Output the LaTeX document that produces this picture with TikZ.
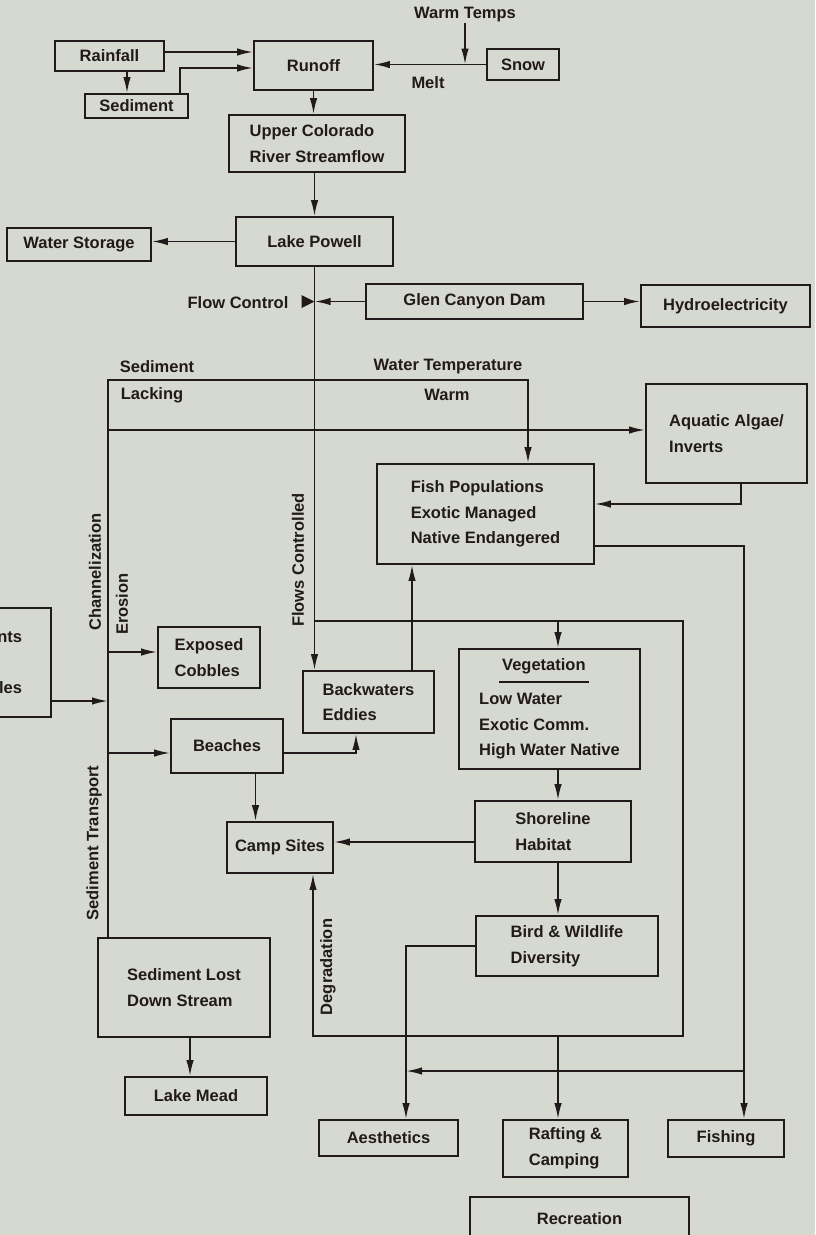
\documentclass[tikz,border=0pt]{standalone}
\usepackage{fontspec}
\setmainfont{Liberation Sans}
\usetikzlibrary{arrows.meta,calc}
\definecolor{bg}{RGB}{213,217,207}
\definecolor{ink}{RGB}{34,26,26}
\begin{document}
\begin{tikzpicture}[x=1pt,y=-1pt,
  every node/.style={text=ink},
  font=\fontsize{16.5}{25.5}\selectfont\bfseries,
  box/.style={draw=ink,line width=1.8pt,inner sep=0pt,align=left},
  lbl/.style={inner sep=0pt},
  conn/.style={draw=ink,line width=1.8pt},
  arr/.style={conn,-{Latex[length=16pt,width=7.5pt]}},
]
\useasboundingbox (0,0) rectangle (815,1235);
\fill[bg] (0,0) rectangle (815,1235);

% boxes
\node[box,minimum width=109pt,minimum height=30pt] (rain) at (109.5,56) {Rainfall};
\node[box,minimum width=103pt,minimum height=24pt] (sedtop) at (136.5,106) {Sediment};
\node[box,minimum width=119pt,minimum height=49pt] (runoff) at (313.5,65.5) {Runoff};
\node[box,minimum width=72pt,minimum height=31pt] (snow) at (523,64.5) {Snow};
\node[box,minimum width=176pt,minimum height=57pt] (upper) at (317,143.5) {Upper Colorado\\River Streamflow};
\node[box,minimum width=157pt,minimum height=49pt] (powell) at (314.5,241.5) {Lake Powell};
\node[box,minimum width=144pt,minimum height=33pt] (storage) at (79,244.5) {Water Storage};
\node[box,minimum width=217pt,minimum height=35pt] (glen) at (474.5,301.5) {Glen Canyon Dam};
\node[box,minimum width=169pt,minimum height=42pt] (hydro) at (725.5,306) {Hydroelectricity};
\node[box,minimum width=161pt,minimum height=99pt] (aquatic) at (726.5,433.5) {Aquatic Algae/\\Inverts};
\node[box,minimum width=217pt,minimum height=100pt] (fish) at (485.5,514) {Fish Populations\\Exotic Managed\\Native Endangered};
\node[box,anchor=east,align=right,inner xsep=29pt,minimum height=109pt] (leftbox) at (52,662.5) {nts\\[25.5pt]les};
\node[box,minimum width=102pt,minimum height=61pt] (cobbles) at (209,657.5) {Exposed\\Cobbles};
\node[box,minimum width=112pt,minimum height=54pt] (beaches) at (227,746) {Beaches};
\node[box,minimum width=131pt,minimum height=62pt] (backw) at (368.5,702) {Backwaters\\Eddies};
\node[box,minimum width=106pt,minimum height=51pt] (camp) at (280,847.5) {Camp Sites};
\node[box,minimum width=181pt,minimum height=120pt] (veg) at (549.5,709)
  {\hspace*{20pt}\smash{\rlap{\rule[-12pt]{90pt}{1.4pt}}}\hspace*{3pt}Vegetation\\[8.5pt]Low Water\\Exotic Comm.\\High Water Native};
\node[box,minimum width=156pt,minimum height=61pt] (shore) at (553,831.5) {Shoreline\\Habitat};
\node[box,minimum width=182pt,minimum height=60pt] (bird) at (567,946) {Bird \& Wildlife\\Diversity};
\node[box,minimum width=172pt,minimum height=99pt] (sedlost) at (184,987.5) {Sediment Lost\\Down Stream};
\node[box,minimum width=142pt,minimum height=38pt] (mead) at (196,1096) {Lake Mead};
\node[box,minimum width=139pt,minimum height=36pt] (aesth) at (388.5,1138) {Aesthetics};
\node[box,minimum width=125pt,minimum height=57pt] (rafting) at (565.5,1148.5) {Rafting \&\\Camping};
\node[box,minimum width=116pt,minimum height=37pt] (fishing) at (726,1138.5) {Fishing};
\node[box,minimum width=219pt,minimum height=43pt] (recreation) at (579.5,1218.5) {Recreation};

% free labels
\node[lbl] (warmt) at (465,15) {Warm Temps};
\node[lbl] (melt) at (428,83) {Melt};
\node[lbl] (flowc) at (238,303) {Flow Control};
\node[lbl] (sedl) at (157,367) {Sediment};
\node[lbl] (lack) at (152,395) {Lacking};
\node[lbl] (wtemp) at (448,367) {Water Temperature};
\node[lbl] (warm) at (447,395) {Warm};
\node[lbl,rotate=90] (chan) at (95,572) {Channelization};
\node[lbl,rotate=90] (eros) at (122,604) {Erosion};
\node[lbl,rotate=90] (flows) at (298,560) {Flows Controlled};
\node[lbl,rotate=90] (sedtr) at (94,843) {Sediment Transport};
\node[lbl,rotate=90] (degr) at (328,967) {Degradation};

% helper coordinates
\coordinate (tl) at (108,380);
\coordinate (wt) at (528,380);
\coordinate (al) at (108,430);
\coordinate (lp) at (683,621);
\coordinate (lq) at (683,1036);
\coordinate (jy) at (744,1071);

% connectors
\path ([yshift=4pt]rain.east) coordinate (re);
\draw[arr] (re) -- (re -| runoff.west);
\path ([xshift=17.5pt]rain.south) coordinate (rs);
\draw[arr] (rs) -- (rs |- sedtop.north);
\path ([xshift=43.5pt]sedtop.north) coordinate (sn);
\path ([yshift=-2.5pt]runoff.west) coordinate (rw);
\draw[arr] (sn) |- (rw);
\draw[arr] (snow.west) -- (snow.west -| runoff.east);
\draw[arr] (warmt.south) -- (warmt.south |- snow.west);
\draw[arr] (runoff.south) -- (runoff.south |- upper.north);
\draw[arr] (powell.north |- upper.south) -- (powell.north);
\draw[arr] (powell.west) -- (powell.west -| storage.east);
\coordinate (valve) at (powell.south |- glen.west);
\draw[arr] (powell.south) -- (powell.south |- backw.north);
\draw[arr] (glen.west) -- (valve);
\fill[ink] (valve) -- ++(-13,-6.5) -- ++(0,13) -- cycle;
\draw[arr] (glen.east) -- (glen.east -| hydro.west);
\draw[arr] (tl |- sedlost.north) -- (tl) -- (wt) -- (wt |- fish.north);
\draw[arr] (al) -- (al -| aquatic.west);
\path ([yshift=-38.5pt]leftbox.east) coordinate (lb);
\draw[arr] (lb) -- (lb -| tl);
\path ([yshift=5.5pt]cobbles.west) coordinate (cw);
\draw[arr] (cw -| tl) -- (cw);
\path ([yshift=-7pt]beaches.west) coordinate (bw);
\draw[arr] (bw -| tl) -- (bw);
\path ([yshift=-7pt]beaches.east) coordinate (be);
\path ([xshift=-12.5pt]backw.south) coordinate (bs);
\draw[arr] (be) -| (bs);
\path ([xshift=28.5pt]beaches.south) coordinate (bb);
\draw[arr] (bb) -- (bb |- camp.north);
\path ([xshift=43.5pt]backw.north) coordinate (bn);
\draw[arr] (bn) -- (bn |- fish.south);
\path ([xshift=14.5pt]aquatic.south) coordinate (as);
\path ([yshift=10pt]fish.east) coordinate (fe);
\draw[arr] (as) |- (fe);
\path ([yshift=-32pt]fish.east) coordinate (fe2);
\path ([xshift=18pt]fishing.north) coordinate (fn);
\draw[arr] (fe2) -| (fn);
\path ([xshift=17.5pt]aesth.north) coordinate (an);
\draw[arr] (jy) -- (jy -| an);
\path ([xshift=33pt]camp.south) coordinate (cs);
\draw[arr] (powell.south |- lp) -- (lp) -- (lq) -- (lq -| cs) -- (cs);
\path ([xshift=8.5pt]veg.north) coordinate (vn);
\draw[arr] (vn |- lp) -- (vn);
\draw[arr] (vn |- veg.south) -- (vn |- shore.north);
\path ([yshift=-10.5pt]shore.west) coordinate (sw);
\draw[arr] (sw) -- (sw -| camp.east);
\draw[arr] (vn |- shore.south) -- (vn |- bird.north);
\draw[arr] (bird.west) -| (an);
\draw[arr] (vn |- lq) -- (vn |- rafting.north);
\path ([xshift=6pt]sedlost.south) coordinate (ss);
\draw[arr] (ss) -- (ss |- mead.north);
\end{tikzpicture}
\end{document}
